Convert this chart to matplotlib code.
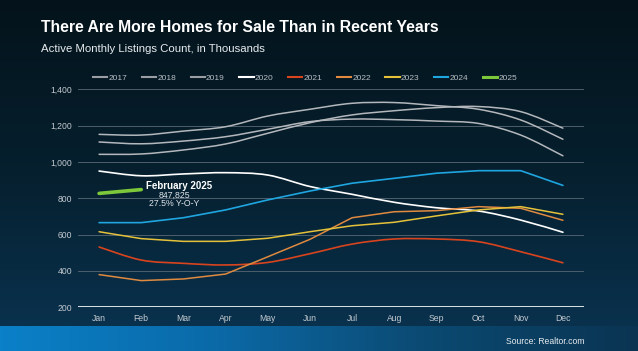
import numpy as np
import matplotlib.pyplot as plt
from matplotlib import font_manager
from matplotlib.path import Path
from matplotlib.patches import PathPatch
from matplotlib.lines import Line2D
from matplotlib.colors import LinearSegmentedColormap

months = ['Jan', 'Feb', 'Mar', 'Apr', 'May', 'Jun', 'Jul', 'Aug', 'Sep', 'Oct', 'Nov', 'Dec']
years = ['2017', '2018', '2019', '2020', '2021', '2022', '2023', '2024', '2025']

y2017 = [1152, 1148, 1170, 1194, 1253, 1290, 1323, 1327, 1310, 1290, 1231, 1125]
y2018 = [1110, 1100, 1115, 1139, 1180, 1222, 1236, 1233, 1225, 1212, 1148, 1034]
y2019 = [1042, 1044, 1066, 1099, 1158, 1216, 1259, 1282, 1299, 1305, 1277, 1186]
y2020 = [950, 924, 934, 941, 928, 865, 822, 778, 748, 730, 680, 613]
y2021 = [532, 460, 442, 433, 447, 495, 548, 576, 576, 561, 506, 445]
y2022 = [380, 347, 356, 383, 478, 574, 693, 726, 732, 754, 745, 679]
y2023 = [616, 578, 563, 563, 580, 616, 649, 668, 703, 736, 754, 712]
y2024 = [666, 666, 693, 736, 791, 840, 883, 910, 938, 952, 952, 871]
y2025 = [827, 848]

series = [y2017, y2018, y2019, y2020, y2021, y2022, y2023, y2024, y2025]
colors = ['#b4b8bc', '#b4b8bc', '#b4b8bc', '#ffffff', '#d8441e', '#e08a40',
          '#e6c23a', '#1fa6e0', '#7cc83a']
smoothed = [True, True, True, True, True, False, False, False, False]
widths = [1.1, 1.1, 1.1, 1.2, 1.2, 1.1, 1.1, 1.2, 2.6]

names = {f.name for f in font_manager.fontManager.ttflist}
fam = 'Liberation Sans Narrow' if 'Liberation Sans Narrow' in names else 'Liberation Sans'
plt.rcParams['font.family'] = fam


def smooth_path(xs, ys):
    n = len(xs)
    verts = [(xs[0], ys[0])]
    codes = [Path.MOVETO]
    for i in range(n - 1):
        p0 = max(i - 1, 0)
        p3 = min(i + 2, n - 1)
        c1 = (xs[i] + (xs[i + 1] - xs[p0]) / 6, ys[i] + (ys[i + 1] - ys[p0]) / 6)
        c2 = (xs[i + 1] - (xs[p3] - xs[i]) / 6, ys[i + 1] - (ys[p3] - ys[i]) / 6)
        verts += [c1, c2, (xs[i + 1], ys[i + 1])]
        codes += [Path.CURVE4] * 3
    return Path(verts, codes)


W, H = 638, 351
fig = plt.figure(figsize=(W / 100, H / 100), dpi=100)

# background
bg = fig.add_axes([0, 0, 1, 1])
bg.set_axis_off()
vert = LinearSegmentedColormap.from_list('v', ['#0a3452', '#06202f', '#04131b'])
g = np.tile(np.linspace(0, 1, 200).reshape(-1, 1), (1, 10))
bg.imshow(g, cmap=vert, aspect='auto', extent=[0, 1, 0, 1], origin='lower')
band = LinearSegmentedColormap.from_list('b', ['#0a80c8', '#0b6aa8', '#0b4a72', '#0a3452'])
h = np.tile(np.linspace(0, 1, 300), (10, 1))
bg.imshow(h, cmap=band, aspect='auto', extent=[0, 1, 0, 24 / H], origin='lower')
bg.set_xlim(0, 1)
bg.set_ylim(0, 1)

ax = fig.add_axes([78 / W, (H - 307.3) / H, (584 - 78) / W, (307.3 - 89.3) / H])
ax.set_facecolor('none')
ax.set_xlim(-0.5, 11.5)
ax.set_ylim(200, 1400)
for s in ax.spines.values():
    s.set_visible(False)
ax.set_yticks(range(200, 1401, 200))
ax.set_yticklabels([f'{v:,}' for v in range(200, 1401, 200)])
ax.set_xticks(range(12))
ax.set_xticklabels(months)
ax.tick_params(length=0, colors='#c4cad0', labelsize=6.2, pad=5)
ax.tick_params(axis='y', pad=4)
for v in range(400, 1401, 200):
    ax.axhline(v, color='#4e5e6c', lw=0.7, zorder=1)
ax.axhline(200, color='#dde3e8', lw=1.4, zorder=1)

for vals, c, sm, lw in zip(series, colors, smoothed, widths):
    xs = list(range(len(vals)))
    if sm:
        ax.add_patch(PathPatch(smooth_path(xs, vals), fill=False, edgecolor=c, lw=lw,
                               zorder=3, capstyle='round'))
    else:
        ax.plot(xs, vals, color=c, lw=lw, zorder=3, solid_capstyle='round')

ax.text(1.12, 866, 'February 2025', color='white', fontsize=7, fontweight='bold',
        ha='left', va='center')
ax.text(1.78, 818, '847,825', color='#dfe5ea', fontsize=6.3, ha='center', va='center')
ax.text(1.78, 772, '27.5% Y-O-Y', color='#dfe5ea', fontsize=6.3, ha='center', va='center')

handles = [Line2D([0], [0], color=('#9a9ea3' if c == '#b4b8bc' else c),
                  lw=(2.2 if y == '2025' else 1.5)) for c, y in zip(colors, years)]
fig.legend(handles, years, loc='center', bbox_to_anchor=(305 / W, 1 - 78 / H), ncol=9,
           frameon=False, fontsize=6, labelcolor='#b8bec4', handlelength=1.7,
           handletextpad=0.15, columnspacing=1.75)

fig.text(41 / W, 1 - 28 / H, 'There Are More Homes for Sale Than in Recent Years',
         color='white', fontsize=11.3, fontweight='bold', ha='left', va='center')
fig.text(41 / W, 1 - 49 / H, 'Active Monthly Listings Count, in Thousands',
         color='#e8ecef', fontsize=8.2, ha='left', va='center')
fig.text(584 / W, 1 - 341 / H, 'Source: Realtor.com', color='#e8ecef', fontsize=6.2,
         ha='right', va='center')

fig.savefig('out.png', dpi=100)
